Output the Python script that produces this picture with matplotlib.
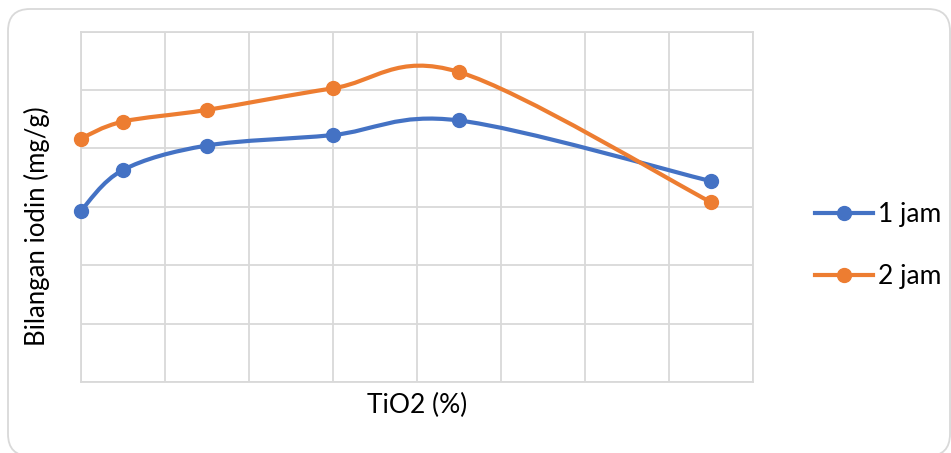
import matplotlib.pyplot as plt
from matplotlib.patches import FancyBboxPatch, PathPatch
from matplotlib.path import Path
import numpy as np

plt.rcParams["font.family"] = ["Lato", "DejaVu Sans"]

tio2 = [0, 0.5, 1.5, 3.0, 4.5, 7.5]
iodin_1jam = [29.3, 36.3, 40.5, 42.3, 44.8, 34.4]
iodin_2jam = [41.7, 44.6, 46.6, 50.3, 53.1, 30.8]

series = [("1 jam", iodin_1jam, "#4472C4"), ("2 jam", iodin_2jam, "#ED7D31")]


def smooth_path(xs, ys):
    # cubic bezier through the points (Catmull-Rom style, like spreadsheet smoothing)
    p = np.column_stack([xs, ys]).astype(float)
    ext = np.vstack([p[0], p, p[-1]])
    verts = [p[0]]
    codes = [Path.MOVETO]
    for i in range(len(p) - 1):
        p0, p1, p2, p3 = ext[i], ext[i + 1], ext[i + 2], ext[i + 3]
        c1 = p1 + (p2 - p0) / 6.0
        c2 = p2 - (p3 - p1) / 6.0
        verts += [c1, c2, p2]
        codes += [Path.CURVE4] * 3
    return Path(verts, codes)


fig = plt.figure(figsize=(9.51, 4.53), dpi=100)
# rounded chart border
fig.patches.append(FancyBboxPatch((8, -3), 942, 447, boxstyle="round,pad=0,rounding_size=22",
                                  transform=None, facecolor="white", edgecolor="#D9D9D9",
                                  linewidth=1.3, zorder=-5))

ax = fig.add_axes([0.0849, 0.1567, 0.7069, 0.7733])
ax.set_facecolor("none")
ax.set_xlim(0, 8)
ax.set_ylim(0, 60)
ax.set_xticks(np.arange(0, 9, 1))
ax.set_yticks(np.arange(0, 61, 10))
ax.tick_params(length=0, labelbottom=False, labelleft=False)
ax.grid(color="#D9D9D9", linewidth=1.3)
ax.set_axisbelow(True)
for s in ax.spines.values():
    s.set_color("#D9D9D9")
    s.set_linewidth(1.3)

for label, vals, color in series:
    ax.add_patch(PathPatch(smooth_path(tio2, vals), facecolor="none", edgecolor=color,
                           linewidth=3, capstyle="round", zorder=3))
    ax.plot(tio2, vals, linestyle="none", marker="o", markersize=10, color=color,
            zorder=4, clip_on=False)
    ax.plot([], [], color=color, linewidth=3, marker="o", markersize=10, label=label)

ax.set_xlabel("TiO2 (%)", fontsize=19, labelpad=8)
ax.set_ylabel("Bilangan iodin (mg/g)", fontsize=18.5)
ax.yaxis.set_label_coords(-0.0457, 0.446)

fig.legend(loc="center left", bbox_to_anchor=(0.832, 0.458), frameon=False, fontsize=19,
           handlelength=2.2, handletextpad=0.19, labelspacing=1.4)

fig.savefig("out.png", dpi=100)
